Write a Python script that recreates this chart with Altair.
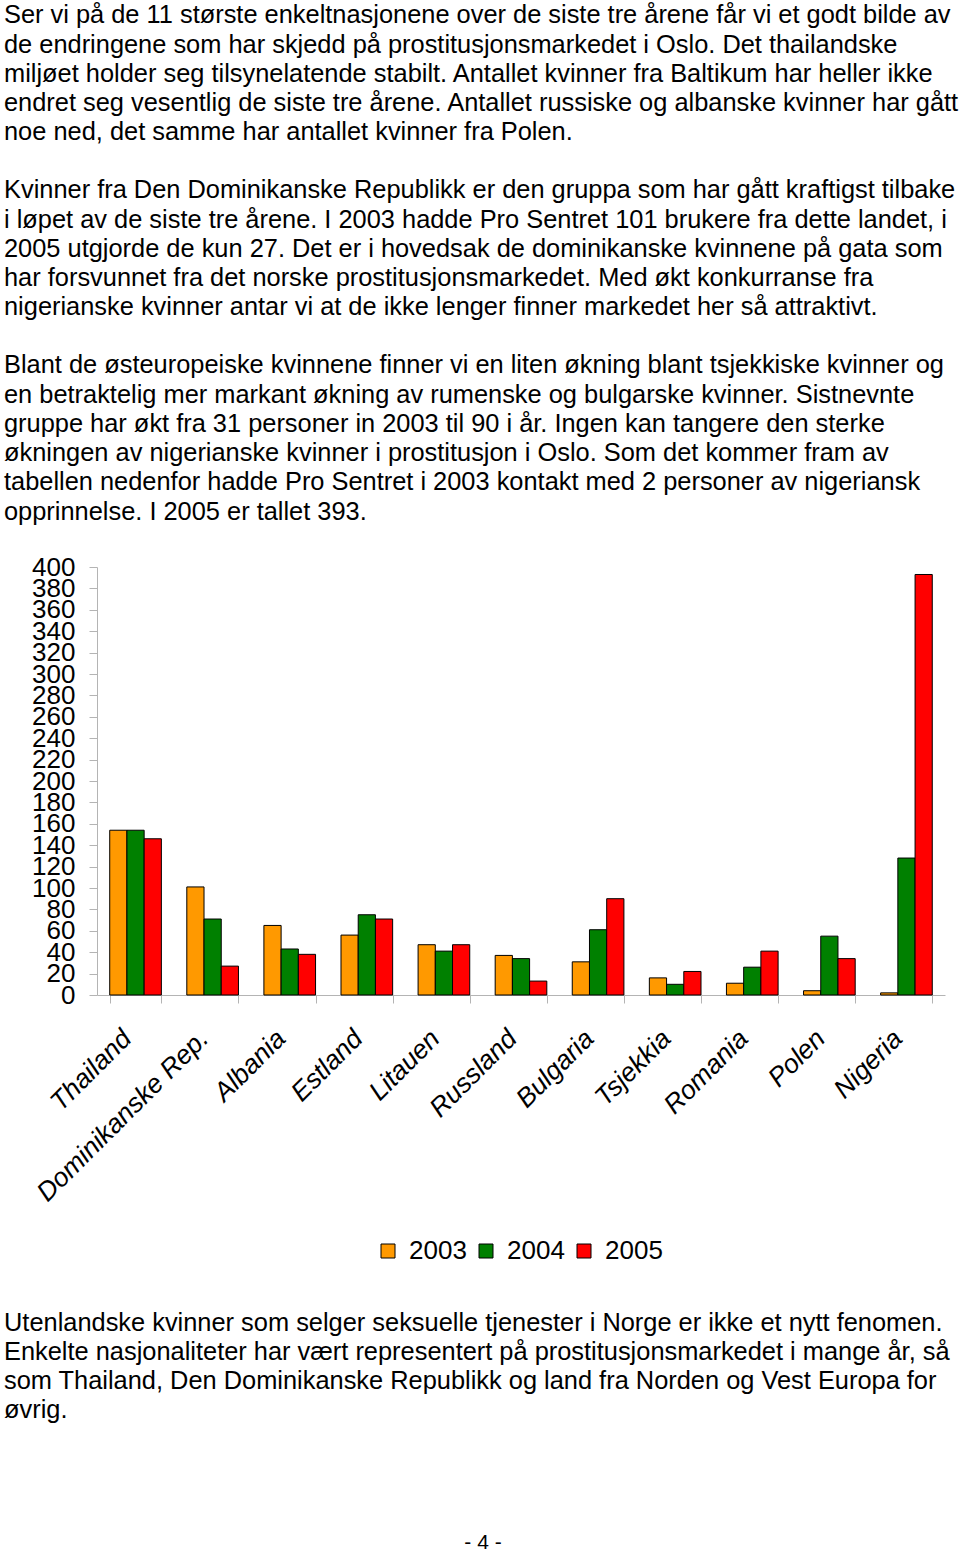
import altair as alt
import pandas as pd

countries = ["Thailand", "Dominikanske Rep.", "Albania", "Estland", "Litauen",
             "Russland", "Bulgaria", "Tsjekkia", "Romania", "Polen", "Nigeria"]
years = ["2003", "2004", "2005"]
v2003 = [154, 101, 65, 56, 47, 37, 31, 16, 11, 4, 2]
v2004 = [154, 71, 43, 75, 41, 34, 61, 10, 26, 55, 128]
v2005 = [146, 27, 38, 71, 47, 13, 90, 22, 41, 34, 393]
year_colors = ["#FF9900", "#008000", "#FF0000"]
y_ticks = list(range(0, 401, 20))

para1 = [
    "Ser vi på de 11 største enkeltnasjonene over de siste tre årene får vi et godt bilde av",
    "de endringene som har skjedd på prostitusjonsmarkedet i Oslo. Det thailandske",
    "miljøet holder seg tilsynelatende stabilt. Antallet kvinner fra Baltikum har heller ikke",
    "endret seg vesentlig de siste tre årene. Antallet russiske og albanske kvinner har gått",
    "noe ned, det samme har antallet kvinner fra Polen.",
]
para2 = [
    "Kvinner fra Den Dominikanske Republikk er den gruppa som har gått kraftigst tilbake",
    "i løpet av de siste tre årene. I 2003 hadde Pro Sentret 101 brukere fra dette landet, i",
    "2005 utgjorde de kun 27. Det er i hovedsak de dominikanske kvinnene på gata som",
    "har forsvunnet fra det norske prostitusjonsmarkedet. Med økt konkurranse fra",
    "nigerianske kvinner antar vi at de ikke lenger finner markedet her så attraktivt.",
]
para3 = [
    "Blant de østeuropeiske kvinnene finner vi en liten økning blant tsjekkiske kvinner og",
    "en betraktelig mer markant økning av rumenske og bulgarske kvinner. Sistnevnte",
    "gruppe har økt fra 31 personer in 2003 til 90 i år. Ingen kan tangere den sterke",
    "økningen av nigerianske kvinner i prostitusjon i Oslo. Som det kommer fram av",
    "tabellen nedenfor hadde Pro Sentret i 2003 kontakt med 2 personer av nigeriansk",
    "opprinnelse. I 2005 er tallet 393.",
]
para4 = [
    "Utenlandske kvinner som selger seksuelle tjenester i Norge er ikke et nytt fenomen.",
    "Enkelte nasjonaliteter har vært representert på prostitusjonsmarkedet i mange år, så",
    "som Thailand, Den Dominikanske Republikk og land fra Norden og Vest Europa for",
    "øvrig.",
]
page_number = "- 4 -"

FONT = "Liberation Sans"

rows = []
for year, vals in zip(years, [v2003, v2004, v2005]):
    for c, v in zip(countries, vals):
        rows.append({"country": c, "year": year, "value": v})
df = pd.DataFrame(rows)

bars = alt.Chart(df).mark_bar(stroke="black", strokeWidth=1, opacity=1).encode(
    x=alt.X("country:N", sort=countries,
            scale=alt.Scale(paddingInner=0.33, paddingOuter=0.165),
            axis=alt.Axis(title=None, labelAngle=-45, labelFontStyle="italic",
                          labelFontSize=26.5, labelColor="black", labelFont=FONT,
                          tickBand="extent", tickSize=8, tickColor="#b4b4b4",
                          domainColor="#b4b4b4", labelPadding=22, labelOffset=-18,
                          labelAlign="right", labelBaseline="top",
                          labelOverlap=False, labelLimit=0)),
    xOffset=alt.XOffset("year:N", sort=years),
    y=alt.Y("value:Q", scale=alt.Scale(domain=[0, 400], nice=False),
            axis=alt.Axis(title=None, values=y_ticks, labelFontSize=26,
                          labelColor="black", labelFont=FONT, grid=False,
                          tickSize=8, tickColor="#b4b4b4", domainColor="#b4b4b4",
                          labelPadding=14, labelOverlap=False, labelFlush=False)),
    color=alt.Color("year:N", sort=years,
                    scale=alt.Scale(domain=years, range=year_colors),
                    legend=alt.Legend(title=None, orient="none", direction="horizontal",
                                      legendX=278, legendY=671, symbolType="square",
                                      symbolSize=196, symbolStrokeColor="black",
                                      symbolStrokeWidth=1, symbolOpacity=1,
                                      labelFontSize=26, labelFont=FONT,
                                      labelColor="black", labelOffset=8,
                                      columnPadding=6, padding=0)),
)


def paragraph(lines, x, y, size=25.4, align="left", baseline="alphabetic"):
    return alt.Chart(pd.DataFrame({"k": [0]})).mark_text(
        align=align, baseline=baseline, fontSize=size, lineHeight=29.25,
        font=FONT, color="black"
    ).encode(x=alt.value(x), y=alt.value(y), text=alt.value(lines))


ox, oy = 97, 567
chart = alt.layer(
    bars,
    paragraph(para1, 4 - ox, 23.3 - oy),
    paragraph(para2, 4 - ox, 198.3 - oy),
    paragraph(para3, 4 - ox, 373.4 - oy),
    paragraph(para4, 4 - ox, 1330.5 - oy),
    paragraph(page_number, 483 - ox, 1543 - oy, size=21, align="center",
              baseline="middle"),
).properties(
    width=848, height=428,
    autosize=alt.AutoSizeParams(type="none"),
    padding={"left": ox, "top": oy, "right": 960 - ox - 848, "bottom": 1554 - oy - 428},
    background="white",
).configure(font=FONT).configure_view(stroke=None)

chart.save("out.html", embed_options={"renderer": "svg", "actions": False})
